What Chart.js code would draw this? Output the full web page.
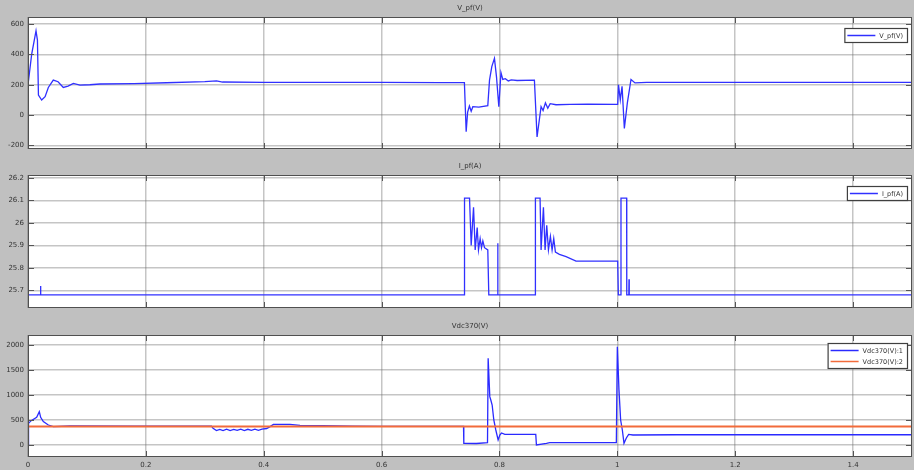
<!DOCTYPE html>
<html>
<head>
<meta charset="utf-8">
<title>Scope</title>
<script src="https://cdn.jsdelivr.net/npm/chart.js@4"></script>
<style>
  body { margin: 0; background: #c0c0c0; }
  #wrap { position: relative; width: 914px; height: 470px; overflow: hidden; }
  .panel { position: absolute; left: 0; width: 914px; }
</style>
</head>
<body>
<div id="wrap">
  <div class="panel" style="top:0;height:152px"><canvas id="c1"></canvas></div>
  <div class="panel" style="top:152px;height:158px"><canvas id="c2"></canvas></div>
  <div class="panel" style="top:310px;height:160px"><canvas id="c3"></canvas></div>
</div>
<script>
const xTicks = [0, 0.2, 0.4, 0.6, 0.8, 1, 1.2, 1.4];
const vPfTicks = [-200, 0, 200, 400, 600];
const iPfTicks = [25.7, 25.8, 25.9, 26, 26.1, 26.2];
const vdcTicks = [0, 500, 1000, 1500, 2000];

// V_pf(V)
const tVpf = [0, 0.0006, 0.0062, 0.0136, 0.016, 0.0177, 0.0232, 0.029, 0.0345, 0.0429, 0.051, 0.0599, 0.068, 0.077, 0.0881, 0.105, 0.122, 0.18, 0.235, 0.3, 0.32, 0.33, 0.4, 0.5, 0.6, 0.7, 0.7405,
  0.7435, 0.746, 0.749, 0.752, 0.7548, 0.765, 0.7802, 0.7831, 0.787, 0.7915, 0.795, 0.7989, 0.8025, 0.8056, 0.81, 0.815, 0.82, 0.83, 0.8593,
  0.8638, 0.8706, 0.874, 0.878, 0.882, 0.886, 0.896, 0.92, 0.95, 1.0006, 1.002, 1.005, 1.008, 1.0119, 1.017, 1.0232, 1.03, 1.05, 1.1, 1.2, 1.3, 1.4, 1.5];
const vPf = [200, 218, 400, 556, 495, 132, 99, 121, 182, 231, 220, 182, 191, 209, 198, 200, 205, 207, 213, 220, 226, 218, 216, 215, 215, 214, 214,
  -110, 20, 60, 25, 55, 52, 62, 230, 320, 374, 250, 55, 280, 235, 240, 225, 232, 228, 230,
  -145, 55, 30, 80, 45, 75, 68, 70, 72, 70, 200, 100, 190, -88, 80, 235, 212, 215, 215, 215, 215, 215, 215];

// I_pf(A)
const tIpf = [0, 0.0005, 0.021, 0.0212, 0.0218, 0.7405, 0.7407, 0.7492, 0.752, 0.756, 0.7588, 0.7622, 0.7644, 0.7672, 0.7695, 0.7718, 0.7746, 0.7802, 0.7819,
  0.7968, 0.797, 0.7975, 0.8608, 0.861, 0.8689, 0.8706, 0.8746, 0.8774, 0.8802, 0.8831, 0.8864, 0.8893, 0.8921, 0.8949, 0.9017, 0.913, 0.9299, 1.0006, 1.0017,
  1.006, 1.0062, 1.0158, 1.016, 1.0195, 1.0198, 1.0202, 1.5];
const iPf = [26.3, 25.68, 25.68, 25.72, 25.68, 25.68, 26.11, 26.11, 25.9, 26.07, 25.88, 25.98, 25.88, 25.93, 25.89, 25.92, 25.89, 25.88, 25.68,
  25.68, 25.91, 25.68, 25.68, 26.11, 26.11, 25.88, 26.07, 25.88, 25.99, 25.88, 25.94, 25.88, 25.93, 25.87, 25.86, 25.85, 25.83, 25.83, 25.68,
  25.68, 26.11, 26.11, 25.68, 25.68, 25.75, 25.68, 25.68];

// Vdc370(V):1
const tVdc = [0, 0.0009, 0.0054, 0.0147, 0.0192, 0.0215, 0.026, 0.0345, 0.0429, 0.0712, 0.18, 0.3113,
  0.314, 0.3198, 0.3254, 0.331, 0.337, 0.343, 0.349, 0.355, 0.361, 0.367, 0.373, 0.379, 0.385, 0.391, 0.397, 0.405, 0.4107, 0.4164, 0.4446, 0.4616, 0.5, 0.55, 0.6, 0.7, 0.739,
  0.7395, 0.7607, 0.7797, 0.7808, 0.7836, 0.7853, 0.7876, 0.7904, 0.7938, 0.7977, 0.8006, 0.8034, 0.8091, 0.8616, 0.8627, 0.8797, 0.8853, 0.9983,
  1.0, 1.0028, 1.0056, 1.0085, 1.0113, 1.0153, 1.0192, 1.0266, 1.1, 1.2, 1.3, 1.4, 1.5];
const vdc1 = [0, 433, 487, 553, 667, 553, 467, 400, 367, 380, 376, 376,
  333, 287, 310, 290, 315, 288, 312, 292, 318, 290, 314, 293, 316, 295, 318, 330, 367, 413, 413, 393, 388, 376, 372, 372, 372,
  33, 30, 47, 1733, 967, 900, 800, 500, 300, 100, 200, 240, 213, 213, 0, 33, 47, 47,
  1967, 1100, 500, 300, 33, 140, 213, 200, 205, 205, 205, 205, 205];

// Vdc370(V):2
const tVdcRef = [0, 1.5];
const vdc2 = [370, 370];

const zip = (xs, ys) => xs.map((x, i) => ({ x: x, y: ys[i] }));
const fmt = v => String(Number(v.toFixed(3)));
const FONT = 'DejaVu Sans';

// marco, ticks interiores, titulo y leyenda tipo scope
const scopePlugin = {
  id: 'scope',
  beforeDraw(chart, args, o) {
    const a = chart.chartArea, ctx = chart.ctx;
    ctx.save();
    ctx.fillStyle = '#ffffff';
    ctx.fillRect(a.left, a.top, a.right - a.left, a.bottom - a.top);
    ctx.restore();
  },
  afterDraw(chart, args, o) {
    const a = chart.chartArea, ctx = chart.ctx;
    ctx.save();
    // ticks hacia adentro
    ctx.strokeStyle = '#555';
    ctx.lineWidth = 1;
    chart.scales.y.ticks.forEach(t => {
      const y = Math.round(chart.scales.y.getPixelForValue(t.value)) + 0.5;
      ctx.beginPath();
      ctx.moveTo(a.left, y); ctx.lineTo(a.left + 6, y);
      ctx.moveTo(a.right, y); ctx.lineTo(a.right - 6, y);
      ctx.stroke();
    });
    chart.scales.x.ticks.forEach(t => {
      const x = Math.round(chart.scales.x.getPixelForValue(t.value)) + 0.5;
      ctx.beginPath();
      ctx.moveTo(x, a.bottom); ctx.lineTo(x, a.bottom - 6);
      ctx.moveTo(x, a.top); ctx.lineTo(x, a.top + 6);
      ctx.stroke();
    });
    // marco
    ctx.strokeStyle = '#505050';
    ctx.strokeRect(a.left + 0.5, a.top + 0.5, a.right - a.left - 1, a.bottom - a.top - 1);

    // titulo
    ctx.fillStyle = '#333';
    ctx.font = '7px "' + FONT + '"';
    ctx.textAlign = 'center';
    ctx.textBaseline = 'middle';
    ctx.fillText(o.title, (a.left + a.right) / 2, a.top - 8.5);

    // leyenda
    ctx.font = '6.5px "' + FONT + '"';
    const ds = chart.data.datasets;
    const textW = Math.max(...ds.map(d => ctx.measureText(d.label).width));
    const rowH = 11;
    const w = 3 + 28 + 4 + textW + 4;
    const h = ds.length * rowH + 3;
    const bx = a.right - 5 - w, by = a.top + o.legendTop;
    ctx.fillStyle = '#fff';
    ctx.fillRect(bx, by, w, h);
    ctx.strokeStyle = '#404040';
    ctx.lineWidth = 1.2;
    ctx.strokeRect(bx + 0.5, by + 0.5, w, h);
    ctx.textAlign = 'left';
    ds.forEach((d, i) => {
      const cy = by + 2 + rowH * i + rowH / 2;
      ctx.strokeStyle = d.borderColor;
      ctx.lineWidth = 1.5;
      ctx.beginPath();
      ctx.moveTo(bx + 3, cy); ctx.lineTo(bx + 31, cy);
      ctx.stroke();
      ctx.fillStyle = '#333';
      ctx.fillText(d.label, bx + 35, cy + 0.5);
    });
    ctx.restore();
  }
};

function makePanel(id, datasets, opt) {
  return new Chart(document.getElementById(id), {
    type: 'line',
    data: { datasets: datasets },
    plugins: [scopePlugin],
    options: {
      responsive: true,
      maintainAspectRatio: false,
      animation: false,
      parsing: false,
      layout: { padding: { top: opt.top, bottom: opt.bottom, left: 0, right: 2 } },
      elements: { point: { radius: 0 }, line: { tension: 0, borderWidth: 1.3 } },
      plugins: {
        legend: { display: false },
        tooltip: { enabled: false },
        scope: { title: opt.title, legendTop: opt.legendTop }
      },
      scales: {
        x: {
          type: 'linear', min: 0, max: 1.5,
          afterBuildTicks: s => { s.ticks = xTicks.map(v => ({ value: v })); },
          afterFit: s => { s.height = opt.xHeight; s.paddingLeft = 0; s.paddingRight = 0; },
          grid: { color: 'rgba(110,110,110,0.4)', lineWidth: 1.5, drawTicks: false },
          border: { display: false },
          ticks: { display: opt.xLabels, padding: 4, color: '#333', font: { family: FONT, size: 7 }, callback: fmt }
        },
        y: {
          min: opt.min, max: opt.max,
          afterBuildTicks: s => { s.ticks = opt.ticks.map(v => ({ value: v })); },
          afterFit: s => { s.width = 28; s.paddingTop = 0; s.paddingBottom = 0; },
          grid: { color: 'rgba(110,110,110,0.4)', lineWidth: 1.5, drawTicks: false },
          border: { display: false },
          ticks: { padding: 4, color: '#333', font: { family: FONT, size: 7 }, callback: fmt }
        }
      }
    }
  });
}

makePanel('c1', [
  { label: 'V_pf(V)', data: zip(tVpf, vPf), borderColor: '#3030ff' }
], { title: 'V_pf(V)', top: 17, bottom: 3, xHeight: 0, xLabels: false, min: -224, max: 647, ticks: vPfTicks, legendTop: 11 });

makePanel('c2', [
  { label: 'I_pf(A)', data: zip(tIpf, iPf), borderColor: '#3030ff' }
], { title: 'I_pf(A)', top: 23, bottom: 2, xHeight: 0, xLabels: false, min: 25.622, max: 26.213, ticks: iPfTicks, legendTop: 11 });

makePanel('c3', [
  { label: 'Vdc370(V):1', data: zip(tVdc, vdc1), borderColor: '#2a2aff', order: 1 },
  { label: 'Vdc370(V):2', data: zip(tVdcRef, vdc2), borderColor: '#f26b3a', borderWidth: 2, order: 0 }
], { title: 'Vdc370(V)', top: 25, bottom: 0, xHeight: 13, xLabels: true, min: -240, max: 2200, ticks: vdcTicks, legendTop: 8 });
</script>
</body>
</html>
